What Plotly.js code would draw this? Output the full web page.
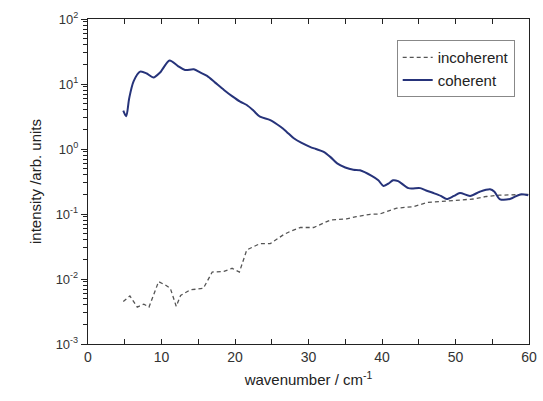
<!DOCTYPE html>
<html><head><meta charset="utf-8">
<script src="https://cdn.plot.ly/plotly-3.0.1.min.js"></script>
<style>html,body{margin:0;padding:0;background:#fff}#chart{width:543px;height:401px}</style>
</head><body><div id="chart"></div>
<script>
var cohX = [4.8, 5.2, 5.6, 6.2, 7.1, 8.0, 8.9, 9.8, 11.1, 12.2, 13.2, 14.4, 15.3, 16.2, 17.3, 18.5, 19.6, 20.7, 21.6, 22.5, 23.4, 24.8, 26.2, 27.0, 28.0, 29.0, 30.2, 31.0, 32.0, 33.0, 33.9, 35.0, 36.1, 37.0, 38.6, 39.5, 40.2, 41.0, 41.5, 42.2, 43.6, 45.2, 46.0, 47.0, 48.0, 48.8, 49.8, 50.6, 52.0, 53.3, 54.7, 55.3, 56.0, 57.4, 58.8, 59.9];
var cohY = [3.9, 3.2, 6, 11, 15.5, 14.5, 12.6, 15, 23, 19, 16.4, 16.8, 15, 13.3, 10.5, 8.1, 6.5, 5.35, 4.75, 3.9, 3.14, 2.79, 2.2, 1.85, 1.46, 1.25, 1.08, 1.0, 0.91, 0.75, 0.60, 0.52, 0.48, 0.47, 0.385, 0.33, 0.27, 0.30, 0.33, 0.32, 0.25, 0.25, 0.23, 0.21, 0.19, 0.17, 0.19, 0.21, 0.19, 0.22, 0.24, 0.22, 0.17, 0.17, 0.20, 0.195];
var incX = [4.8, 5.7, 6.7, 7.6, 8.3, 9.6, 10.5, 11.2, 12.0, 12.6, 13.9, 15.7, 16.9, 18.5, 19.6, 20.6, 21.6, 23.4, 24.8, 26.6, 27.5, 28.9, 30.7, 33.0, 35.2, 36.5, 38.4, 39.7, 42.0, 44.3, 46.1, 48.3, 50.6, 52.4, 54.2, 56.0, 57.9, 59.9];
var incY = [0.0045, 0.0055, 0.0037, 0.0041, 0.0037, 0.0091, 0.0081, 0.0072, 0.0038, 0.0056, 0.0068, 0.0072, 0.0128, 0.0131, 0.0146, 0.0128, 0.028, 0.035, 0.035, 0.048, 0.054, 0.062, 0.062, 0.081, 0.084, 0.091, 0.099, 0.10, 0.123, 0.13, 0.15, 0.155, 0.164, 0.17, 0.186, 0.195, 0.195, 0.20];
var yTickVals = [0.001, 0.01, 0.1, 1, 10, 100];
var yTickText = ['10<sup>-3</sup>', '10<sup>-2</sup>', '10<sup>-1</sup>', '10<sup>0</sup>', '10<sup>1</sup>', '10<sup>2</sup>'];

var yMinor = [];
yTickVals.slice(0, -1).forEach(function (d) { for (var k = 2; k <= 9; k++) yMinor.push(d * k); });

var font = 'Liberation Sans, Arial, sans-serif';
var traces = [
  {x: incX, y: incY, type: 'scatter', mode: 'lines', name: 'incoherent',
   line: {color: '#555555', width: 1.3, dash: '4px,3px'}},
  {x: cohX, y: cohY, type: 'scatter', mode: 'lines', name: 'coherent',
   line: {color: '#26337a', width: 2, shape: 'spline', smoothing: 0.8}}
];
var layout = {
  width: 543, height: 401,
  margin: {l: 87.5, r: 14, t: 19, b: 57},
  paper_bgcolor: '#fff', plot_bgcolor: '#fff',
  font: {family: font, size: 13, color: '#333'},
  showlegend: true,
  legend: {x: 0.70, y: 0.935, xanchor: 'left', yanchor: 'top',
    bordercolor: '#888', borderwidth: 1, bgcolor: '#fff',
    font: {family: font, size: 15, color: '#222'}, tracegroupgap: 0},
  xaxis: {range: [0, 60], tickmode: 'linear', tick0: 0, dtick: 10,
    ticks: 'inside', ticklen: 5, tickcolor: '#222', linecolor: '#222', linewidth: 1.2,
    mirror: 'allticks', showgrid: false, zeroline: false,
    minor: {dtick: 5, ticks: 'inside', ticklen: 5, tickcolor: '#222', showgrid: false},
    tickfont: {family: font, size: 14, color: '#333'},
    title: {text: 'wavenumber / cm<sup>-1</sup>', font: {family: font, size: 15, color: '#222'}, standoff: 10}},
  yaxis: {type: 'log', range: [-3, 2], tickmode: 'array', tickvals: yTickVals, ticktext: yTickText,
    ticks: 'outside', ticklen: 6, tickcolor: '#222', linecolor: '#222', linewidth: 1.2,
    mirror: true, showgrid: false, zeroline: false,
    minor: {tickmode: 'array', tickvals: yMinor, ticks: 'outside', ticklen: 4, tickcolor: '#222', showgrid: false},
    tickfont: {family: font, size: 13, color: '#333'},
    title: {text: 'intensity /arb. units', font: {family: font, size: 15, color: '#222'}, standoff: 10}}
};
Plotly.newPlot('chart', traces, layout, {displayModeBar: false, staticPlot: true});
</script>
</body></html>
